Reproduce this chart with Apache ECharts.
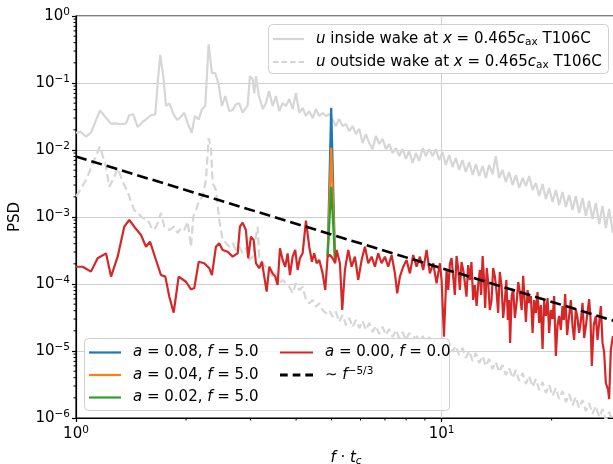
<!DOCTYPE html>
<html><head><meta charset="utf-8">
<script src="https://cdn.jsdelivr.net/npm/echarts@6/dist/echarts.min.js"></script>
<style>html,body{margin:0;padding:0;background:#fff}#c{width:613px;height:464px}</style>
</head><body><div id="c"></div>
<script>
// ---------- data (frequency f·t_c, PSD) ----------
const insideF = [1.000,1.032,1.065,1.099,1.163,1.208,1.247,1.286,1.327,1.370,1.399,1.434,1.475,1.522,1.554,1.604,1.648,1.673,1.700,1.733,1.763,1.800,1.857,1.897,1.937,1.978,2.021,2.072,2.115,2.166,2.211,2.257,2.306,2.354,2.404,2.456,2.507,2.560,2.625,2.682,2.738,2.796,2.856,2.948,2.991,3.042,3.073,
3.106,3.165,3.246,3.308,3.371,3.451,3.524,3.597,3.675,3.752,3.831,3.914,3.996,4.080,4.168,4.256,4.345,4.439,4.532,4.628,4.728,4.827,4.928,
5.044,5.140,5.238,5.362,5.474,5.589,5.710,5.831,5.953,6.082,6.209,6.340,6.477,6.613,6.752,6.898,7.043,7.191,7.346,7.501,7.658,7.824,7.988,8.155,8.332,8.507,8.685,8.873,9.059,9.249,9.449,9.647,
9.850,10.06,10.27,10.49,10.72,10.94,11.17,11.41,11.65,11.90,12.16,12.41,12.67,12.95,13.22,13.49,13.79,14.07,14.37,14.68,14.99,15.30,15.64,15.97,16.30,16.66,17.01,17.36,17.74,
18.11,
18.49,18.89,19.29,19.69,20.12,20.54,20.97,21.42,21.88,22.33,22.82,23.29,23.78,24.30,24.81,25.33,25.87,26.42,26.98,27.56,28.14,28.73,29.41,30.35,31.12];
const insideP = [0.0181,0.0186,0.0158,0.0181,0.0391,0.0303,0.0247,0.0250,0.0242,0.0250,0.0330,0.0341,0.0220,0.0262,0.0287,0.0330,0.0341,0.101,0.262,0.127,0.0454,0.0498,0.0322,0.0280,0.0314,0.0360,0.0250,0.0181,0.0322,0.0287,0.0405,0.0454,0.378,0.142,0.140,0.0956,0.0454,0.0640,0.0382,0.0395,0.0481,0.0498,0.0360,0.0465,0.127,0.114,0.0702,
0.127,0.0640,0.0409,0.0503,0.0760,0.0454,0.0640,0.0382,0.0503,0.0454,0.0577,0.0409,0.0709,0.0357,0.0423,0.0322,0.0382,0.0300,0.0409,0.0322,0.0357,0.0322,0.0345,
0.0280,0.0228,0.0290,0.0228,0.0244,0.0192,0.0228,0.0173,0.0206,0.0127,0.0173,0.0127,0.0103,0.0162,0.0123,0.0146,0.0103,0.0123,0.00902,0.0107,0.00813,0.0103,0.00734,0.00966,0.00640,0.00902,0.00685,0.0107,0.00813,0.0103,0.00813,0.0103,
0.00709,0.00934,0.00597,0.00842,0.00557,0.00760,0.00503,0.00709,0.00469,0.00662,0.00423,0.00618,0.00409,0.00577,0.00382,0.00597,0.00438,0.00813,0.00382,0.00503,0.00333,0.00469,0.00300,0.00423,0.00271,0.00382,0.00290,0.00409,0.00253,
0.00322,
0.00206,0.00311,0.00186,0.00271,0.00167,0.00253,0.00151,0.00236,0.00141,0.00213,0.00127,0.00206,0.00115,0.00192,0.00104,0.00173,0.000934,0.00162,0.000786,0.00146,0.000685,0.00132,0.000577,0.00119,0.000521];

const outsideF = [1.000,1.065,1.122,1.163,1.208,1.233,1.273,1.300,1.355,1.385,1.414,1.443,1.475,1.522,1.571,1.604,1.637,1.673,1.708,1.744,1.800,1.857,1.897,1.937,1.978,2.021,2.063,2.093,2.129,2.174,2.221,2.267,2.306,2.339,2.365,2.414,2.465,2.518,2.571,2.625,2.682,2.738,2.796,2.856,2.916,2.978,3.042,3.106,3.139,3.171,3.240,3.308,3.378,3.451,3.524,3.597,3.675,3.831,3.914,3.996,4.080,4.168,4.256,4.345,4.439,4.532,4.628,4.728,4.827,4.928,5.035,5.140,
5.248,5.362,5.474,5.589,5.710,5.831,5.953,6.082,6.209,6.340,6.477,6.613,6.752,6.898,7.043,7.191,7.346,7.501,7.658,7.824,7.988,8.155,8.332,8.507,8.685,8.873,9.059,9.249,9.449,9.647,
9.850,10.06,10.27,10.49,10.72,10.94,11.17,11.41,11.65,11.90,12.16,12.41,12.67,12.95,13.22,13.49,13.79,14.07,14.37,14.68,14.99,15.30,15.64,15.97,16.30,16.66,17.01,17.36,17.74,
18.11,
18.49,18.89,19.29,19.69,20.12,20.54,20.97,21.42,21.88,22.33,22.82,23.29,23.78,24.30,24.81,25.33,25.87,26.42,26.98,27.56,28.14,28.73,29.41,30.35,31.12];
const outsideP = [0.00201,0.00357,0.00709,0.0112,0.00563,0.00283,0.00399,0.00533,0.00300,0.00238,0.00169,0.00127,0.00115,0.000966,0.000902,0.000717,0.000640,0.000813,0.00115,0.000717,0.000640,0.000717,0.000577,0.000685,0.000640,0.000851,0.000360,0.00101,0.00127,0.00179,0.00201,0.00357,0.0150,0.0112,0.00322,0.00253,0.000902,0.000454,0.000409,0.000360,0.000409,0.000322,0.000360,0.000290,0.000345,0.000228,0.000256,0.000508,0.000717,0.000256,0.000204,0.000181,0.000162,0.000129,0.000144,0.000102,0.000115,9.11e-5,7.27e-5,0.000102,8.13e-5,9.11e-5,5.77e-5,5.15e-5,5.77e-5,4.58e-5,5.15e-5,4.09e-5,3.65e-5,4.09e-5,3.25e-5,3.86e-5,
2.71e-5,3.45e-5,2.44e-5,3.11e-5,2.28e-5,2.90e-5,2.20e-5,2.80e-5,2.06e-5,2.62e-5,1.92e-5,2.36e-5,1.79e-5,2.28e-5,1.73e-5,2.13e-5,1.62e-5,2.06e-5,1.56e-5,1.92e-5,1.46e-5,1.86e-5,1.41e-5,1.79e-5,1.36e-5,1.67e-5,1.32e-5,1.62e-5,1.23e-5,1.51e-5,
1.15e-5,1.41e-5,1.03e-5,1.32e-5,9.66e-6,1.19e-5,8.72e-6,1.11e-5,7.86e-6,1.00e-5,7.09e-6,9.34e-6,6.62e-6,8.42e-6,5.97e-6,7.60e-6,5.38e-6,6.85e-6,4.86e-6,6.18e-6,4.38e-6,5.57e-6,3.95e-6,5.21e-6,3.57e-6,4.69e-6,3.22e-6,4.23e-6,2.90e-6,
3.82e-6,
2.62e-6,3.45e-6,2.36e-6,3.11e-6,2.13e-6,2.80e-6,1.92e-6,2.53e-6,1.73e-6,2.28e-6,1.56e-6,2.06e-6,1.41e-6,1.86e-6,1.27e-6,1.67e-6,1.15e-6,1.51e-6,1.03e-6,1.36e-6,9.3e-7,1.23e-6,8.7e-7,1.07e-6,7.7e-7];

const spikeF = [4.88, 4.99, 5.11];
const a008P = [2.6e-4, 0.0428, 2.4e-4];
const a004P = [2.6e-4, 0.0108, 2.4e-4];
const a002P = [2.6e-4, 0.00283, 2.4e-4];

const a000F = [1.000,1.043,1.099,1.146,1.208,1.247,1.300,1.355,1.399,1.443,
1.506,1.554,1.594,1.655,1.708,1.755,1.800,1.850,1.909,1.999,
2.063,2.106,2.166,2.243,2.315,2.354,2.414,2.465,2.518,2.599,
2.682,2.768,2.808,2.856,2.916,2.959,3.009,3.061,3.106,3.171,
3.226,3.273,3.323,3.378,3.451,3.508,3.561,3.613,3.675,3.736,
3.792,3.848,3.914,3.978,4.039,4.098,4.168,4.256,4.345,4.420,
4.484,4.552,4.628,4.728,4.806,4.879,4.950,5.035,5.118,5.163,
5.272,5.349,5.440,5.555,5.675,5.794,5.916,6.044,6.171,6.300,
6.437,6.572,6.710,6.855,6.999,7.146,7.300,7.454,7.563,7.692,
7.852,8.022,8.191,8.363,8.544,8.723,8.906,9.099,9.290,9.485,
9.690,9.893,10.00,
10.15,10.32,10.43,10.54,10.65,10.76,10.87,10.99,11.10,11.22,
11.34,11.46,11.58,11.70,11.82,11.95,12.07,12.20,12.33,12.47,
12.60,12.73,12.83,12.95,13.06,13.16,13.29,13.41,13.55,13.70,
13.84,13.99,14.14,14.28,14.43,14.59,14.74,14.90,15.04,15.18,
15.30,15.40,15.55,15.70,15.87,16.04,16.21,16.38,16.56,16.72,
16.87,17.01,17.19,17.36,17.55,17.74,17.92,18.11,18.30,18.49,
18.69,18.89,19.08,19.29,19.50,19.69,19.90,20.12,20.32,20.54,
20.76,20.97,21.19,21.42,21.60,21.78,22.05,22.33,22.57,22.82,
23.05,23.29,23.54,23.78,24.03,24.30,24.55,24.81,25.08,25.33,
25.55,25.76,26.08,26.42,26.70,26.98,27.27,27.56,27.84,28.14,
28.55,28.73,29.04,29.41,30.35,31.12];
const a000P = [1.81e-4,1.81e-4,1.53e-4,2.42e-4,2.87e-4,1.29e-4,2.56e-4,7.17e-4,9.02e-4,7.17e-4,
5.39e-4,3.60e-4,4.28e-4,2.28e-4,1.36e-4,1.29e-4,6.46e-5,3.73e-5,1.29e-4,1.08e-4,
8.33e-5,8.62e-5,2.15e-4,2.04e-4,1.72e-4,1.36e-4,3.60e-4,4.05e-4,3.22e-4,3.03e-4,
2.56e-4,2.87e-4,7.17e-4,8.22e-4,6.40e-4,2.42e-4,5.08e-4,4.54e-4,2.04e-4,1.72e-4,
2.15e-4,1.29e-4,7.68e-5,1.81e-4,1.44e-4,1.29e-4,9.66e-5,3.41e-4,2.28e-4,1.81e-4,
2.87e-4,1.36e-4,2.56e-4,3.22e-4,1.62e-4,2.42e-4,2.87e-4,8.81e-4,3.60e-4,2.15e-4,
2.87e-4,2.04e-4,2.28e-4,1.44e-4,8.13e-5,2.56e-4,2.71e-4,2.42e-4,2.04e-4,3.22e-4,
2.04e-4,4.09e-5,1.62e-4,3.22e-4,1.81e-4,2.56e-4,1.15e-4,2.28e-4,3.60e-4,2.04e-4,
2.56e-4,1.81e-4,2.87e-4,2.04e-4,2.56e-4,1.81e-4,2.71e-4,1.44e-4,7.27e-5,1.29e-4,
1.81e-4,2.28e-4,1.44e-4,2.71e-4,1.81e-4,2.56e-4,1.62e-4,3.22e-4,1.44e-4,2.04e-4,
1.02e-4,2.04e-4,1.15e-4,
1.63e-5,1.62e-4,8.13e-5,2.04e-4,2.44e-4,1.29e-4,6.85e-5,2.62e-4,1.73e-4,8.13e-5,
2.13e-4,1.62e-4,1.04e-4,6.46e-5,1.92e-4,1.15e-4,2.13e-4,5.77e-5,9.66e-5,4.69e-5,
1.00e-4,1.62e-4,6.85e-5,2.62e-4,1.23e-4,4.38e-5,1.73e-4,1.07e-4,4.09e-5,5.77e-5,
1.73e-4,1.29e-4,7.60e-5,3.69e-5,1.51e-4,9.34e-5,3.11e-5,5.77e-5,1.15e-4,2.90e-5,
5.77e-5,1.32e-5,6.62e-5,8.42e-5,3.11e-5,5.21e-5,1.07e-4,7.34e-5,4.09e-5,1.32e-4,
5.77e-5,2.71e-5,8.13e-5,5.21e-5,6.62e-5,1.86e-5,5.77e-5,3.69e-5,7.60e-5,2.62e-5,
4.86e-5,1.07e-5,5.77e-5,3.33e-5,6.18e-5,1.86e-5,4.09e-5,3.00e-5,6.62e-5,8.42e-6,
2.44e-5,3.33e-5,2.06e-5,4.69e-5,2.90e-5,7.09e-5,1.73e-5,3.33e-5,5.77e-5,2.36e-5,
1.46e-5,4.23e-5,3.11e-5,1.86e-5,2.71e-5,5.21e-5,1.56e-5,2.36e-5,3.82e-5,5.97e-5,
3.11e-5,5.97e-6,2.44e-5,3.33e-5,1.46e-5,2.62e-5,4.69e-5,1.32e-5,9.66e-6,3.33e-6,
2.62e-6,1.92e-6,1.03e-5,1.67e-5,7.3e-6,1.46e-5];

const slopeF = [1, 30];
const slopeP = [8.0e-3, 2.76e-5];

const xMinorTicks = [2,3,4,5,6,7,8,9,20,30];
const yDecades = [1e-6,1e-5,1e-4,1e-3,1e-2,1e-1];
const yMinorMult = [2,3,4,5,6,7,8,9];

// ---------- chart ----------
const FONT = 'DejaVu Sans';
const zip = (f, p) => f.map((x, i) => [x, p[i]]);
const yMinorTicks = [];
yDecades.forEach(d => yMinorMult.forEach(m => yMinorTicks.push(m * d)));

const rich = {
  n: {fontFamily: FONT, fontSize: 15, color: '#000', lineHeight: 18},
  i: {fontFamily: FONT, fontSize: 15, fontStyle: 'italic', color: '#000', lineHeight: 18},
  sub: {fontFamily: FONT, fontSize: 10.5, color: '#000', lineHeight: 8, verticalAlign: 'bottom'},
  isub: {fontFamily: FONT, fontSize: 10.5, fontStyle: 'italic', color: '#000', lineHeight: 8, verticalAlign: 'bottom'},
  sup: {fontFamily: FONT, fontSize: 10.5, color: '#000', lineHeight: 8, verticalAlign: 'top'},
  g: {width: 7, lineHeight: 18}
};
const labels = {
  inside: '{g| }{i|u}{n| inside wake at }{i|x}{n| = 0.465}{i|c}{sub|ax}{n| T106C}',
  outside: '{g| }{i|u}{n| outside wake at }{i|x}{n| = 0.465}{i|c}{sub|ax}{n| T106C}',
  a008: '{g| }{i|a}{n| = 0.08, }{i|f}{n| = 5.0}',
  a004: '{g| }{i|a}{n| = 0.04, }{i|f}{n| = 5.0}',
  a002: '{g| }{i|a}{n| = 0.02, }{i|f}{n| = 5.0}',
  a000: '{g| }{i|a}{n| = 0.00, }{i|f}{n| = 0.0}',
  slope: '{g| }{n|∼ }{i|f}{sup|−5/3}'
};
// legend handle shapes (bounding box = itemWidth x itemHeight)
const solidIcon = w => 'path://M0,0L0,0M0,18L0,18M0,7.9h' + w + 'v2.2h-' + w + 'z';
const grayDashIcon = 'path://M0,0L0,0M0,18L0,18M0,7.9h5.5v2.2h-5.5zM8.5,7.9h5.5v2.2h-5.5zM17,7.9h5.5v2.2h-5.5zM25.5,7.9h5.5v2.2h-5.5z';
const blackDashIcon = 'path://M0,0L0,0M0,18L0,18M0,7.6h7.7v2.8h-7.7zM12.7,7.6h7.7v2.8h-7.7zM25.3,7.6h7.7v2.8h-7.7z';

const powLabel = v => {
  const e = Math.round(Math.log10(v));
  if (Math.abs(v - Math.pow(10, e)) / v > 1e-6) return '';
  return '{b|10}{s|' + (e < 0 ? '−' : '') + Math.abs(e) + '}';
};
const tickRich = {
  b: {fontFamily: FONT, fontSize: 15, color: '#000', lineHeight: 18},
  s: {fontFamily: FONT, fontSize: 10.5, color: '#000', lineHeight: 8, verticalAlign: 'top'}
};

const lineSeries = (name, data, color, width, type, z) => ({
  name, type: 'line', data, symbol: 'none', showSymbol: false, silent: true,
  lineStyle: {color, width, type}, itemStyle: {color}, z
});

const minorTickSeries = (data, axis) => ({
  type: 'custom', silent: true, data, z: 5, clip: false,
  renderItem: (params, api) => {
    const p = api.coord([api.value(0), api.value(1)]);
    const shape = axis === 'x'
      ? {x1: p[0], y1: p[1], x2: p[0], y2: p[1] + 2.5}
      : {x1: p[0] - 2.5, y1: p[1], x2: p[0], y2: p[1]};
    return {type: 'line', shape, style: {stroke: '#000', lineWidth: 1}};
  }
});

const legendCommon = {orient: 'vertical', itemHeight: 18, padding: 0, selectedMode: false,
  formatter: n => labels[n], textStyle: {rich}, z: 4};

const chart = echarts.init(document.getElementById('c'), null, {renderer: 'canvas'});
chart.setOption({
  animation: false,
  backgroundColor: '#fff',
  grid: {left: 76, top: 16, width: 540, height: 402, containLabel: false, outerBoundsMode: 'none',
         show: true, borderColor: '#000', borderWidth: 1.2, backgroundColor: 'transparent'},
  xAxis: {
    type: 'log', logBase: 10, min: 1, max: 30,
    name: '{i|f}{n| · }{i|t}{isub|c}', nameLocation: 'middle', nameGap: 31,
    nameTextStyle: {rich},
    axisLine: {show: true, lineStyle: {color: '#000', width: 1.2}},
    axisTick: {show: true, length: 4, lineStyle: {color: '#000', width: 1.2}},
    axisLabel: {formatter: powLabel, rich: tickRich, margin: 7, showMaxLabel: false},
    splitLine: {show: true, lineStyle: {color: '#cfcfcf', width: 1}}
  },
  yAxis: {
    type: 'log', logBase: 10, min: 1e-6, max: 1,
    name: 'PSD', nameLocation: 'middle', nameGap: 53, nameRotate: 90,
    nameTextStyle: {fontFamily: FONT, fontSize: 15, color: '#000'},
    axisLine: {show: true, lineStyle: {color: '#000', width: 1.2}},
    axisTick: {show: true, length: 4, lineStyle: {color: '#000', width: 1.2}},
    axisLabel: {formatter: powLabel, rich: tickRich, margin: 6},
    splitLine: {show: true, lineStyle: {color: '#cfcfcf', width: 1}}
  },
  graphic: [
    {type: 'rect', z: 3, shape: {x: 268.5, y: 24.5, width: 340, height: 49, r: 4}, style: {fill: 'rgba(255,255,255,0.8)', stroke: '#d0d0d0', lineWidth: 1}},
    {type: 'rect', z: 3, shape: {x: 84.5, y: 338.5, width: 365, height: 72, r: 4}, style: {fill: 'rgba(255,255,255,0.8)', stroke: '#d0d0d0', lineWidth: 1}}
  ],
  legend: [
    Object.assign({}, legendCommon, {left: 273, top: 30, itemWidth: 31, itemGap: 5,
      data: [{name: 'inside', icon: solidIcon(31)}, {name: 'outside', icon: grayDashIcon}]}),
    Object.assign({}, legendCommon, {left: 89, top: 343.5, itemWidth: 32, itemGap: 4.5,
      data: [{name: 'a008', icon: solidIcon(32)}, {name: 'a004', icon: solidIcon(32)}, {name: 'a002', icon: solidIcon(32)}]}),
    Object.assign({}, legendCommon, {left: 280, top: 343.5, itemWidth: 33, itemGap: 4.5,
      data: [{name: 'a000', icon: solidIcon(33)}, {name: 'slope', icon: blackDashIcon}]})
  ],
  series: [
    lineSeries('inside', zip(insideF, insideP), '#d6d6d6', 2.2, 'solid', 2),
    lineSeries('outside', zip(outsideF, outsideP), '#d6d6d6', 2.2, [8, 4], 2),
    lineSeries('a008', zip(spikeF, a008P), '#1f77b4', 2.2, 'solid', 2),
    lineSeries('a004', zip(spikeF, a004P), '#ff7f0e', 2.2, 'solid', 2),
    lineSeries('a002', zip(spikeF, a002P), '#2ca02c', 2.2, 'solid', 2),
    lineSeries('a000', zip(a000F, a000P), '#d62728', 2.2, 'solid', 2),
    lineSeries('slope', zip(slopeF, slopeP), '#000000', 2.6, [11, 5], 2),
    minorTickSeries(xMinorTicks.map(v => [v, 1e-6]), 'x'),
    minorTickSeries(yMinorTicks.map(v => [1, v]), 'y')
  ]
});
</script>
</body></html>
